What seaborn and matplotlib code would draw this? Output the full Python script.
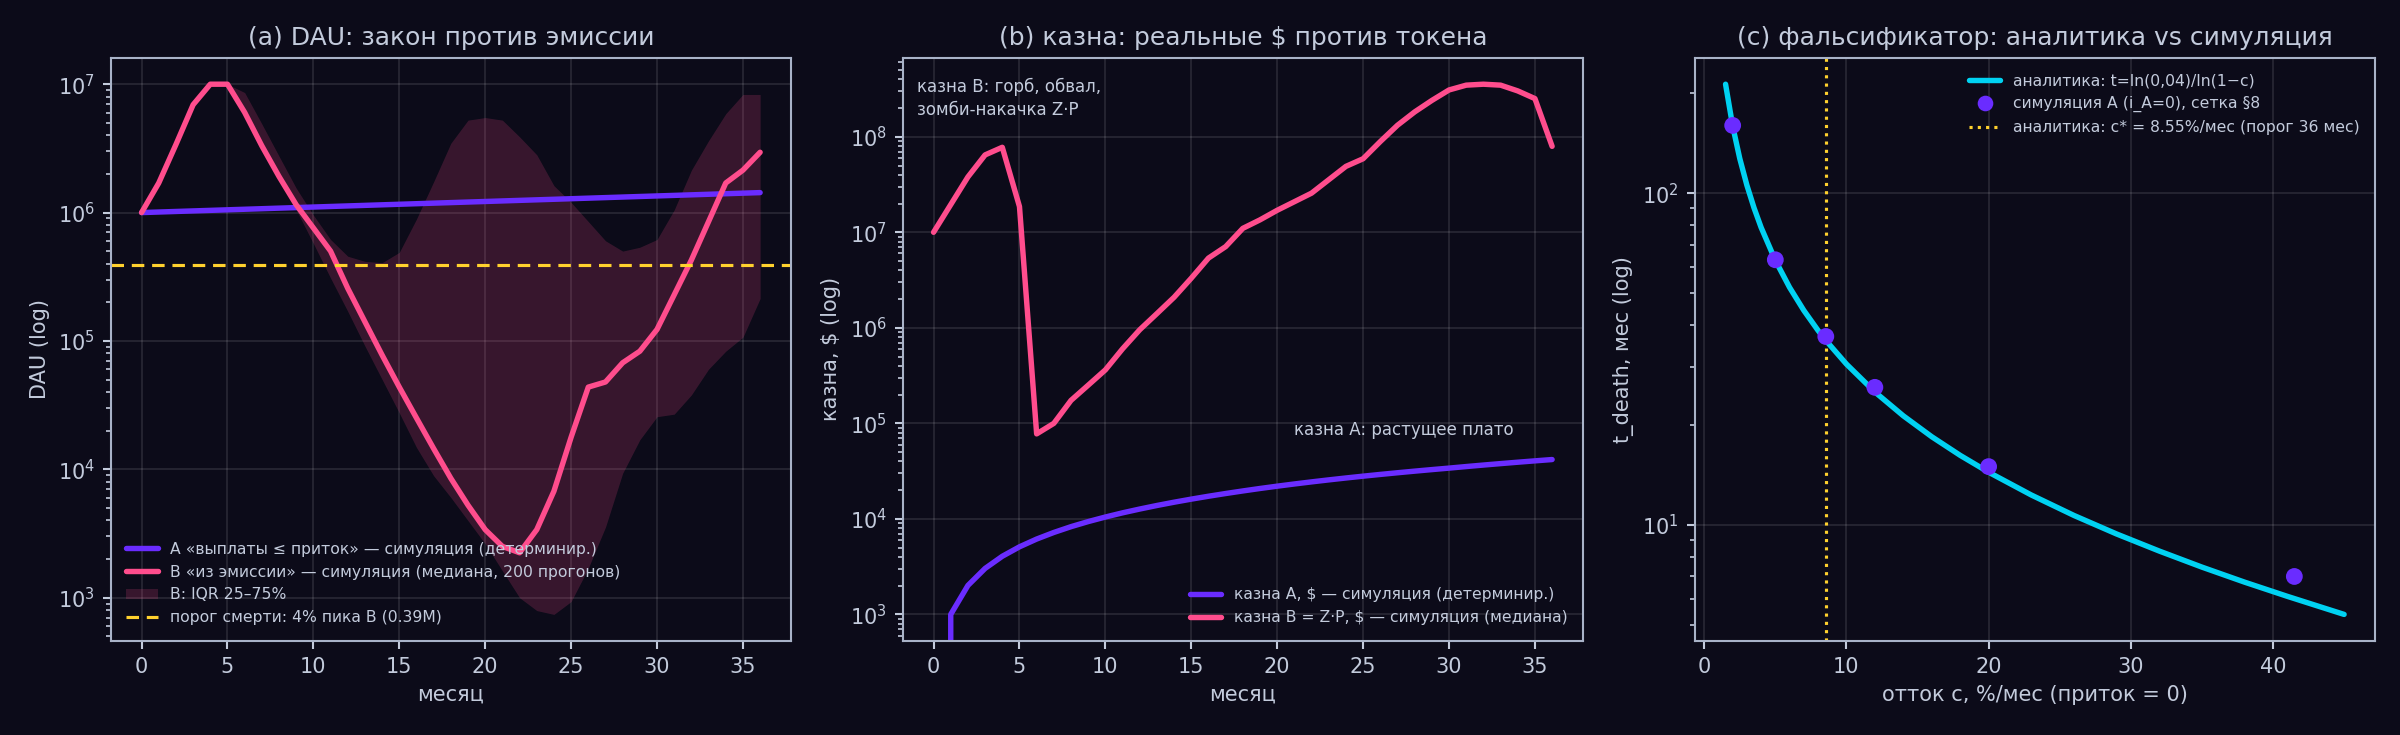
import matplotlib
matplotlib.use("Agg")
import matplotlib.pyplot as plt
import seaborn as sns
import pandas as pd
from matplotlib.lines import Line2D
from matplotlib.patches import Patch

# ---------------- data ----------------
months = list(range(37))

dau_A = [1000000, 1010000, 1020100, 1030300, 1040600, 1051000, 1061500, 1072100,
         1082900, 1093700, 1104600, 1115700, 1126800, 1138100, 1149500, 1161000,
         1172600, 1184300, 1196100, 1208100, 1220200, 1232400, 1244700, 1257200,
         1269700, 1282400, 1295300, 1308200, 1321300, 1334500, 1347800, 1361300,
         1374900, 1388700, 1402600, 1416600, 1430800]

dau_B_median = [1.00e6, 1.70e6, 3.39e6, 6.92e6, 1.00e7, 1.00e7, 6.03e6, 3.31e6,
                1.91e6, 1.15e6, 7.59e5, 5.01e5, 2.57e5, 1.41e5, 7.76e4, 4.37e4,
                2.51e4, 1.45e4, 8.51e3, 5.25e3, 3.39e3, 2.51e3, 2.24e3, 3.39e3,
                6.76e3, 1.78e4, 4.37e4, 4.79e4, 6.76e4, 8.32e4, 1.23e5, 2.29e5,
                4.27e5, 8.51e5, 1.70e6, 2.14e6, 2.95e6]

dau_B_q75 = [1.00e6, 1.70e6, 3.39e6, 6.92e6, 1.00e7, 1.00e7, 8.61e6, 4.90e6,
             2.75e6, 1.55e6, 9.55e5, 6.17e5, 4.57e5, 4.17e5, 4.07e5, 4.90e5,
             8.91e5, 1.74e6, 3.47e6, 5.25e6, 5.50e6, 5.25e6, 3.89e6, 2.82e6,
             1.62e6, 1.20e6, 8.51e5, 6.03e5, 5.01e5, 5.37e5, 6.17e5, 1.05e6,
             2.14e6, 3.63e6, 5.89e6, 8.32e6, 8.32e6]

dau_B_q25 = [1.00e6, 1.66e6, 3.31e6, 6.76e6, 9.77e6, 9.77e6, 5.89e6, 3.16e6,
             1.86e6, 1.05e6, 5.75e5, 3.09e5, 1.70e5, 9.12e4, 5.01e4, 2.75e4,
             1.48e4, 8.91e3, 6.03e3, 3.98e3, 2.63e3, 1.62e3, 1.00e3, 7.94e2,
             7.41e2, 9.33e2, 1.70e3, 3.55e3, 9.33e3, 1.70e4, 2.57e4, 2.69e4,
             3.80e4, 6.03e4, 8.32e4, 1.07e5, 2.14e5]

death_threshold = 0.39e6

treasury_A = [0, 1000, 2010, 3030, 4060, 5100, 6150, 7210, 8290, 9370, 10460,
              11570, 12680, 13810, 14950, 16100, 17260, 18430, 19610, 20810,
              22000, 23200, 24400, 25600, 26800, 28000, 29200, 30400, 31600,
              32800, 34000, 35300, 36600, 37900, 39200, 40500, 41800]

treasury_B = [1.00e7, 1.95e7, 3.80e7, 6.46e7, 7.76e7, 1.86e7, 7.76e4, 1.00e5,
              1.74e5, 2.51e5, 3.63e5, 6.03e5, 9.55e5, 1.41e6, 2.09e6, 3.31e6,
              5.37e6, 7.08e6, 1.10e7, 1.35e7, 1.70e7, 2.09e7, 2.57e7, 3.55e7,
              4.90e7, 5.89e7, 8.91e7, 1.32e8, 1.82e8, 2.40e8, 3.09e8, 3.47e8,
              3.55e8, 3.47e8, 3.02e8, 2.51e8, 7.94e7]

churn_curve = [1.5, 2.0, 2.5, 3.0, 3.5, 4.0, 5.0, 6.0, 7.0, 8.0, 8.55, 10.0,
               12.0, 14.0, 16.0, 18.0, 20.0, 23.0, 26.0, 29.0, 32.0, 35.0,
               38.0, 41.0, 45.0]
tdeath_curve = [212.98, 159.33, 127.14, 105.68, 90.35, 78.85, 62.76, 52.02,
                44.36, 38.60, 36.01, 30.55, 25.18, 21.34, 18.46, 16.22, 14.43,
                12.32, 10.69, 9.40, 8.35, 7.47, 6.73, 6.10, 5.38]

churn_sim = [2.0, 5.0, 8.55, 12.0, 20.0, 41.5]
tdeath_sim = [160, 63, 37, 26, 15, 7]

c_star = 8.55

# ---------------- style ----------------
BG = "#0c0b19"
TXT = "#c3cbdc"
SPINE = "#a9b3c8"
PURPLE = "#6a2cff"
PINK = "#ff4d8d"
CYAN = "#00d2f2"
YELLOW = "#ffd12e"

sns.set_theme(style="dark", rc={
    "figure.facecolor": BG,
    "axes.facecolor": BG,
    "axes.edgecolor": SPINE,
    "axes.labelcolor": TXT,
    "text.color": TXT,
    "xtick.color": TXT,
    "ytick.color": TXT,
    "axes.grid": True,
    "grid.color": "#ffffff",
    "grid.alpha": 0.12,
    "grid.linewidth": 0.8,
    "xtick.bottom": True,
    "ytick.left": True,
    "axes.linewidth": 1.0,
})
plt.rcParams["font.family"] = ["DejaVu Sans"]

fig, axes = plt.subplots(1, 3, figsize=(16, 4.9), dpi=150)
fig.subplots_adjust(left=0.0461, right=0.9896, top=0.9215, bottom=0.128, wspace=0.164)

df_a = pd.DataFrame({"month": months, "A": dau_A, "B": dau_B_median,
                     "q25": dau_B_q25, "q75": dau_B_q75})
df_b = pd.DataFrame({"month": months, "A": treasury_A, "B": treasury_B})
df_c = pd.DataFrame({"c": churn_curve, "t": tdeath_curve})
df_s = pd.DataFrame({"c": churn_sim, "t": tdeath_sim})

LW = 2.6

# ---------- (a) ----------
ax = axes[0]
ax.fill_between(df_a["month"], df_a["q25"], df_a["q75"], color=PINK, alpha=0.18,
                linewidth=0)
sns.lineplot(data=df_a, x="month", y="A", ax=ax, color=PURPLE, lw=LW,
             estimator=None, legend=False)
sns.lineplot(data=df_a, x="month", y="B", ax=ax, color=PINK, lw=LW,
             estimator=None, legend=False)
ax.axhline(death_threshold, color=YELLOW, lw=1.5, ls=(0, (4, 2.5)))
ax.set_yscale("log")
ax.set_title("(a) DAU: закон против эмиссии", fontsize=12, color=TXT)
ax.set_xlabel("месяц", fontsize=10)
ax.set_ylabel("DAU (log)", fontsize=10)
handles = [
    Line2D([], [], color=PURPLE, lw=LW),
    Line2D([], [], color=PINK, lw=LW),
    Patch(facecolor=PINK, alpha=0.18, edgecolor="none"),
    Line2D([], [], color=YELLOW, lw=1.5, ls=(0, (4, 2.5))),
]
labels = [
    "A «выплаты ≤ приток» — симуляция (детерминир.)",
    "B «из эмиссии» — симуляция (медиана, 200 прогонов)",
    "B: IQR 25–75%",
    "порог смерти: 4% пика B (0.39M)",
]
ax.legend(handles, labels, loc="lower left", fontsize=7.5, frameon=False,
          labelcolor=TXT, borderaxespad=0.6, handlelength=2.0)

# ---------- (b) ----------
ax = axes[1]
sns.lineplot(data=df_b, x="month", y="A", ax=ax, color=PURPLE, lw=LW,
             estimator=None, legend=False)
sns.lineplot(data=df_b, x="month", y="B", ax=ax, color=PINK, lw=LW,
             estimator=None, legend=False)
ax.set_yscale("log")
ax.set_title("(b) казна: реальные $ против токена", fontsize=12, color=TXT)
ax.set_xlabel("месяц", fontsize=10)
ax.set_ylabel("казна, $ (log)", fontsize=10)
ax.text(0.021, 0.965, "казна B: горб, обвал,\nзомби-накачка Z·P",
        transform=ax.transAxes, ha="left", va="top", fontsize=8, color=TXT,
        linespacing=1.3)
ax.text(0.5745, 0.362, "казна A: растущее плато", transform=ax.transAxes,
        ha="left", va="center", fontsize=8, color=TXT)
handles = [Line2D([], [], color=PURPLE, lw=LW), Line2D([], [], color=PINK, lw=LW)]
labels = ["казна A, $ — симуляция (детерминир.)",
          "казна B = Z·P, $ — симуляция (медиана)"]
ax.legend(handles, labels, loc="lower right", fontsize=7.5, frameon=False,
          labelcolor=TXT, borderaxespad=0.6)

# ---------- (c) ----------
ax = axes[2]
sns.lineplot(data=df_c, x="c", y="t", ax=ax, color=CYAN, lw=LW,
             estimator=None, legend=False, sort=False)
sns.scatterplot(data=df_s, x="c", y="t", ax=ax, color=PURPLE, s=65,
                edgecolor="none", zorder=5, legend=False)
ax.axvline(c_star, color=YELLOW, lw=1.5, ls=":")
ax.set_yscale("log")
ax.set_title("(c) фальсификатор: аналитика vs симуляция", fontsize=12, color=TXT)
ax.set_xlabel("отток c, %/мес (приток = 0)", fontsize=10)
ax.set_ylabel("t_death, мес (log)", fontsize=10)
handles = [
    Line2D([], [], color=CYAN, lw=LW),
    Line2D([], [], color=PURPLE, marker="o", ls="none", markersize=7.5,
           markeredgecolor="none"),
    Line2D([], [], color=YELLOW, lw=1.5, ls=":"),
]
labels = ["аналитика: t=ln(0,04)/ln(1−c)",
          "симуляция A (i_A=0), сетка §8",
          "аналитика: c* = 8.55%/мес (порог 36 мес)"]
ax.legend(handles, labels, loc="upper right", fontsize=7.5, frameon=False,
          labelcolor=TXT, borderaxespad=0.6)

for ax in axes:
    for sp in ax.spines.values():
        sp.set_visible(True)
        sp.set_color(SPINE)
    ax.tick_params(axis="both", which="major", labelsize=10, colors=TXT,
                   length=4, width=1, direction="out")
    ax.tick_params(axis="y", which="minor", left=True, length=2.5, width=0.8,
                   colors=TXT)
    ax.grid(True, which="major", color="#ffffff", alpha=0.12, lw=0.8)
    ax.grid(False, which="minor")

fig.savefig("out.png", dpi=150, facecolor=BG)
